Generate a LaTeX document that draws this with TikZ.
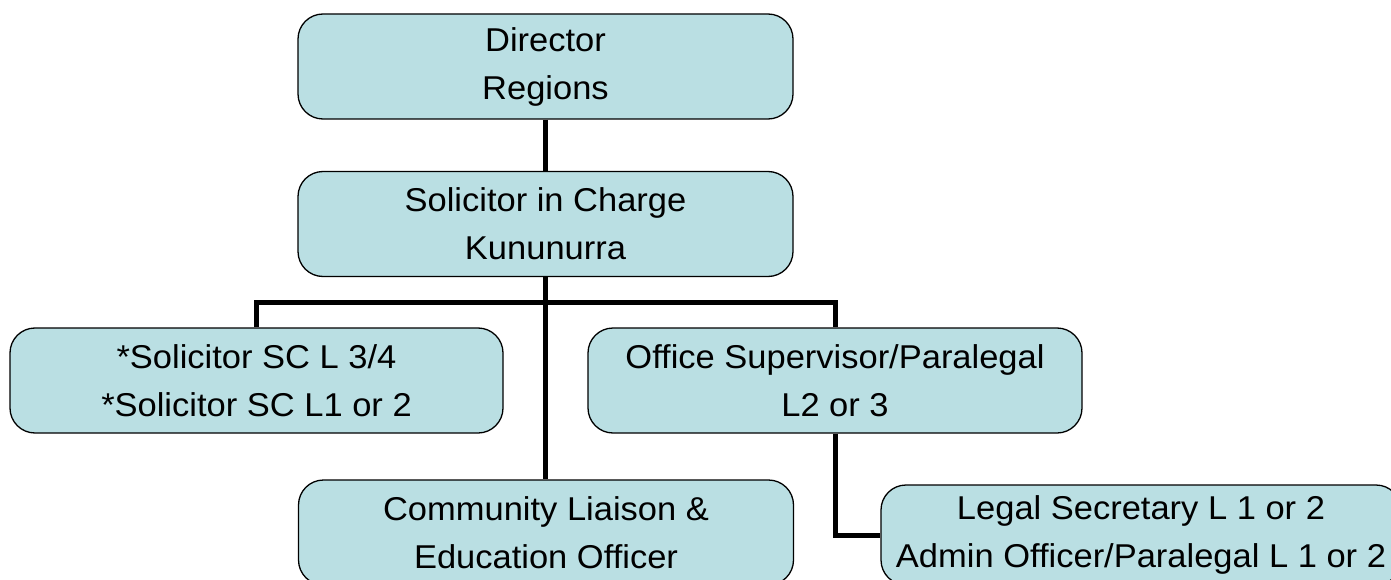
\documentclass[tikz,border=0pt]{standalone}
\usepackage{fontspec}
\setmainfont{Liberation Sans}
\definecolor{boxblue}{RGB}{186,223,227}
\newcommand\wide[1]{\scalebox{1.045}[1]{#1}}
\newcommand\twolines[2]{\wide{#1}\\\wide{#2}}
\tikzset{box/.style={draw,fill=boxblue,rounded corners=25pt,line width=1.3pt,
  minimum width=495pt,minimum height=105pt,inner sep=0pt,align=center,
  font=\fontsize{33}{48}\selectfont},
  link/.style={line width=5pt}}
\begin{document}
\begin{tikzpicture}[x=1pt,y=-1pt]
\useasboundingbox (0,0) rectangle (1391,580);
\node[box] (dir) at (545.5,66.5) {\twolines{Director}{Regions}};
\node[box] (sic) at (545.5,224) {\twolines{Solicitor in Charge}{Kununurra}};
\node[box,minimum width=493pt] (sol) at (256.5,380.5) {\twolines{*Solicitor SC L 3/4}{*Solicitor SC L1 or 2}};
\node[box,minimum width=494pt] (osp) at (835,380.5) {\twolines{Office Supervisor/Paralegal}{L2 or 3}};
\node[box] (cle) at (546,532.5) {\twolines{Community Liaison \&}{Education Officer}};
\node[box,minimum width=520pt,minimum height=100pt] (lsa) at (1141,535) {\twolines{Legal Secretary L 1 or 2}{Admin Officer/Paralegal L 1 or 2}};
\coordinate (bus) at (545.5,302);
\draw[link](dir)--(sic);
\draw[link](sic.south)--(bus)--(cle.north -| bus);
\draw[link](sol.north)|-(bus)-|(osp.north);
\draw[link](osp.south)|-(lsa.west);
\end{tikzpicture}
\end{document}
